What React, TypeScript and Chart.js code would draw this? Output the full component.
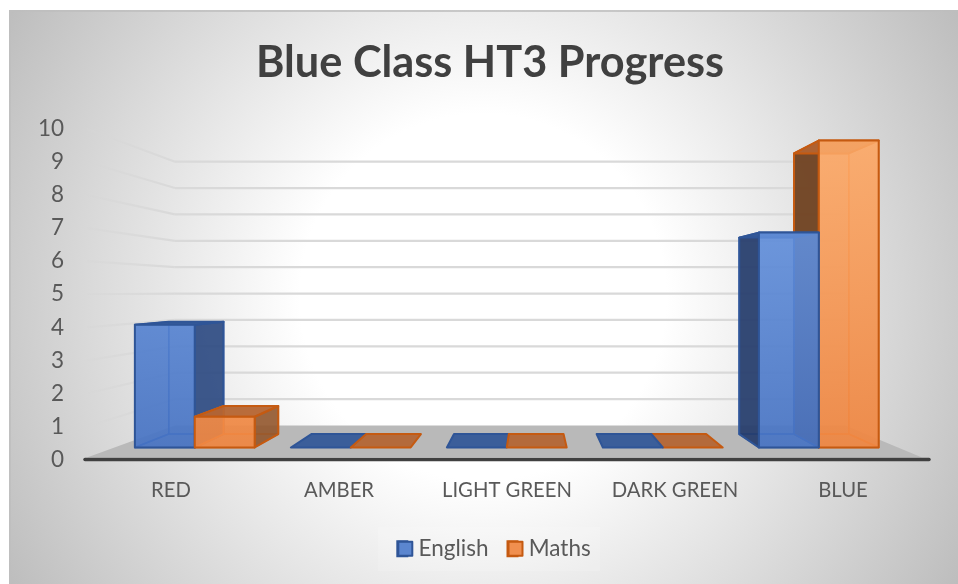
import React, { useEffect, useRef } from "react";
import { Chart, registerables } from "chart.js";

Chart.register(...registerables);

const categories = ["RED", "AMBER", "LIGHT GREEN", "DARK GREEN", "BLUE"];
const english = [4, 0, 0, 0, 7];
const maths = [1, 0, 0, 0, 10];
const FONT = "Lato, 'Open Sans', sans-serif";

// perspective of the floor and walls
const VP = { x: 530, y: 291 };
const S_BACK_WALL = 0.798;
const S_BAR_FRONT = 0.9286;
const S_BAR_BACK = 0.849;

type Pt = [number, number];
const proj = (x: number, y: number, s: number): Pt => [VP.x + (x - VP.x) * s, VP.y + (y - VP.y) * s];

function poly(ctx: CanvasRenderingContext2D, pts: Pt[], fill: any, stroke?: string, lw = 2) {
  ctx.beginPath();
  pts.forEach((p, i) => (i ? ctx.lineTo(p[0], p[1]) : ctx.moveTo(p[0], p[1])));
  ctx.closePath();
  if (fill) {
    ctx.fillStyle = fill;
    ctx.fill();
  }
  if (stroke) {
    ctx.strokeStyle = stroke;
    ctx.lineWidth = lw;
    ctx.lineJoin = "round";
    ctx.stroke();
  }
}

const palette = [
  {
    frontTop: "rgba(112,158,232,0.84)",
    frontBottom: "rgba(72,116,196,0.86)",
    side: "rgba(36,58,104,0.88)",
    sideLight: "rgba(44,72,126,0.85)",
    top: "rgba(52,88,152,0.95)",
    inner: "rgba(60,104,180,0.45)",
    edge: "#2F5597",
    innerEdge: "rgba(44,92,178,0.9)",
  },
  {
    frontTop: "rgba(252,170,105,0.88)",
    frontBottom: "rgba(238,134,66,0.9)",
    side: "rgba(104,60,28,0.9)",
    sideLight: "rgba(140,84,44,0.85)",
    top: "rgba(180,100,50,0.93)",
    inner: "rgba(245,140,70,0.35)",
    edge: "#C55A11",
    innerEdge: "rgba(246,122,40,0.95)",
  },
];

const scene = {
  id: "scene3d",
  afterLayout(chart: any) {
    // room for the y tick labels, and the legend's place under the plot
    chart.scales.y.left = 20;
    const shift = 4;
    chart.legend.left += shift;
    chart.legend.right += shift;
    chart.legend.legendHitBoxes.forEach((h: any) => {
      h.left += shift;
    });
  },
  beforeDraw(chart: any) {
    const { ctx, height } = chart;
    ctx.save();
    const g = ctx.createRadialGradient(483, 297, 0, 483, 297, 555);
    g.addColorStop(0, "#FFFFFF");
    g.addColorStop(0.33, "#FFFFFF");
    g.addColorStop(1, "#BDBDBD");
    ctx.fillStyle = g;
    ctx.fillRect(9, 10, 949, height - 10);
    ctx.fillStyle = "rgba(190,190,190,0.8)";
    ctx.fillRect(9, 10, 949, 2);
    ctx.fillRect(9, 10, 2, height - 10);
    ctx.fillStyle = "rgba(255,255,255,0.15)";
    ctx.fillRect(378, 527, 222, 44);
    ctx.restore();
  },
  beforeDatasetsDraw(chart: any) {
    const { ctx, scales } = chart;
    const xs = scales.x;
    const ys = scales.y;
    const L = xs.left;
    const R = xs.right;
    const base = ys.getPixelForValue(0);
    const topY = ys.getPixelForValue(10);
    ctx.save();

    // floor
    const bl = proj(L, base, S_BACK_WALL);
    const br = proj(R, base, S_BACK_WALL);
    poly(ctx, [[L + 2, base - 2], bl, br, [R - 3, base - 2]], "#B9B9B9");

    // gridlines on side and back walls
    ys.ticks.forEach((t: any) => {
      const y = ys.getPixelForValue(t.value);
      const b = proj(L, y, S_BACK_WALL);
      const b2 = proj(R, y, S_BACK_WALL);
      if (t.value > 0) {
        const side = ctx.createLinearGradient(L, 0, b[0], 0);
        side.addColorStop(0, "rgba(214,214,214,0.4)");
        side.addColorStop(1, "#D9D9D9");
        ctx.strokeStyle = side;
        ctx.lineWidth = 2.2;
        ctx.beginPath();
        ctx.moveTo(L + 2, y);
        ctx.lineTo(b[0], b[1]);
        ctx.stroke();
        ctx.strokeStyle = "#D9D9D9";
        ctx.beginPath();
        ctx.moveTo(b[0], b[1]);
        ctx.lineTo(b2[0], b2[1]);
        ctx.stroke();
      }
    });

    // bars, furthest from the centre of view first
    const bars: any[] = [];
    chart.data.datasets.forEach((_: any, d: number) => {
      chart.getDatasetMeta(d).data.forEach((el: any) => bars.push({ el, d }));
    });
    bars.sort((a, b) => Math.abs(b.el.x - VP.x) - Math.abs(a.el.x - VP.x));

    bars.forEach(({ el, d }) => {
      const c = palette[d];
      const x0 = el.x - el.width / 2;
      const x1 = el.x + el.width / 2;
      const yT = el.y;
      const yB = el.base;
      const fbl = proj(x0, yB, S_BAR_FRONT);
      const fbr = proj(x1, yB, S_BAR_FRONT);
      const ftl = proj(x0, yT, S_BAR_FRONT);
      const ftr = proj(x1, yT, S_BAR_FRONT);
      const bbl = proj(x0, yB, S_BAR_BACK);
      const bbr = proj(x1, yB, S_BAR_BACK);
      const btl = proj(x0, yT, S_BAR_BACK);
      const btr = proj(x1, yT, S_BAR_BACK);
      const flat = yB - yT < 1;

      if (!flat) {
        // back and floor seen through the glass
        poly(ctx, [bbl, bbr, btr, btl], c.inner, c.innerEdge, 1.5);
        const leftVisible = bbl[0] < fbl[0];
        const rightVisible = bbr[0] > fbr[0];
        if (!leftVisible) poly(ctx, [fbl, bbl, btl, ftl], c.inner, c.innerEdge, 1.5);
        if (!rightVisible) poly(ctx, [fbr, bbr, btr, ftr], c.inner, c.innerEdge, 1.5);
        poly(ctx, [fbl, fbr, bbr, bbl], c.inner, c.innerEdge, 1.5);
        if (leftVisible) poly(ctx, [fbl, bbl, btl, ftl], c.side, c.edge);
        if (rightVisible) poly(ctx, [fbr, bbr, btr, ftr], c.sideLight, c.edge);
      }
      poly(ctx, [ftl, ftr, btr, btl], c.top, c.edge);
      if (!flat) {
        const grad = ctx.createLinearGradient(0, proj(0, topY, S_BAR_FRONT)[1], 0, fbl[1]);
        grad.addColorStop(0, c.frontTop);
        grad.addColorStop(1, c.frontBottom);
        poly(ctx, [fbl, fbr, ftr, ftl], grad, c.edge);
      }
    });

    // front floor edge
    ctx.strokeStyle = "#404040";
    ctx.lineWidth = 3.5;
    ctx.lineCap = "round";
    ctx.beginPath();
    ctx.moveTo(L, base);
    ctx.lineTo(R + 4, base);
    ctx.stroke();
    ctx.restore();
    return false;
  },
  afterDraw(chart: any) {
    // widen the legend swatches while keeping the text close to them
    const { ctx, legend } = chart;
    ctx.save();
    legend.legendItems.forEach((item: any, i: number) => {
      const h = legend.legendHitBoxes[i];
      poly(
        ctx,
        [
          [h.left + 1, h.top + h.height / 2 - 7],
          [h.left + 15, h.top + h.height / 2 - 7],
          [h.left + 15, h.top + h.height / 2 + 7],
          [h.left + 1, h.top + h.height / 2 + 7],
        ],
        item.fillStyle,
        item.strokeStyle,
        2
      );
    });
    ctx.restore();
  },
};

export default function App() {
  const ref = useRef<HTMLCanvasElement>(null);
  useEffect(() => {
    const chart = new Chart(ref.current!, {
      type: "bar",
      data: {
        labels: categories,
        datasets: [
          { label: "English", data: english, backgroundColor: "#5B86CF", borderColor: "#2F5597", borderWidth: 2 },
          { label: "Maths", data: maths, backgroundColor: "#F08F4F", borderColor: "#C55A11", borderWidth: 2 },
        ],
      },
      options: {
        responsive: false,
        animation: false,
        layout: { padding: { left: 55, right: 33, top: 0, bottom: 14 } },
        datasets: { bar: { categoryPercentage: 0.768, barPercentage: 1 } },
        plugins: {
          tooltip: { enabled: false },
          title: {
            display: true,
            text: "Blue Class HT3 Progress",
            color: "#404040",
            font: { family: FONT, size: 43.3, weight: "bold", lineHeight: 1.2 },
            padding: { top: 37, bottom: 40 },
          },
          legend: {
            display: true,
            position: "bottom",
            labels: {
              color: "#595959",
              font: { family: FONT, size: 22.5 },
              boxWidth: 10,
              boxHeight: 15,
              padding: 19,
            },
          },
        },
        scales: {
          x: {
            grid: { display: false },
            border: { display: false },
            afterFit(s: any) {
              s.height = 59;
            },
            ticks: {
              color: "#595959",
              font: { family: FONT, size: 20.3 },
              padding: 11,
              labelOffset: 2,
              maxRotation: 0,
              autoSkip: false,
            },
          },
          y: {
            min: 0,
            max: 10,
            grid: { display: false },
            border: { display: false },
            afterFit(s: any) {
              s.width = 30;
            },
            ticks: {
              stepSize: 1,
              color: "#595959",
              font: { family: FONT, size: 22.5 },
              padding: 13,
            },
          },
        },
      },
      plugins: [scene],
    } as any);
    return () => chart.destroy();
  }, []);
  return (
    <div style={{ position: "fixed", left: 0, top: 0, width: 958, height: 584, background: "#fff" }}>
      <canvas ref={ref} width={958} height={584} style={{ display: "block" }} />
    </div>
  );
}
